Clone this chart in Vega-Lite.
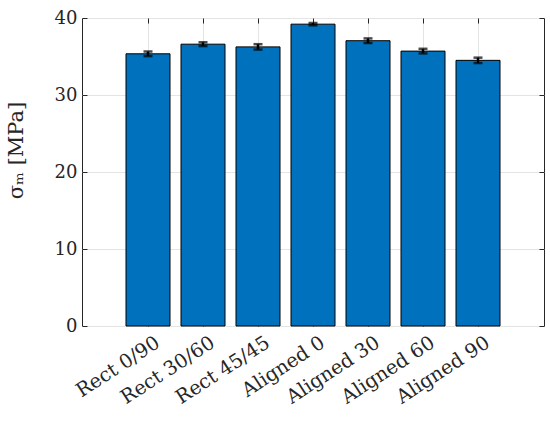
{
  "$schema": "https://vega.github.io/schema/vega-lite/v6.json",
  "autosize": {"type": "none"},
  "padding": {"left": 82, "top": 18, "right": 6, "bottom": 96},
  "width": 462,
  "height": 308,
  "background": "white",
  "config": {
    "view": {"stroke": "#262626", "strokeWidth": 1},
    "font": "DejaVu Serif",
    "axis": {
      "labelFont": "DejaVu Serif",
      "titleFont": "DejaVu Serif",
      "labelColor": "#262626",
      "titleColor": "#262626",
      "tickColor": "#262626",
      "domain": false,
      "gridColor": "#e4e4e4",
      "gridWidth": 1
    }
  },
  "data": {
    "values": [
      {"group": "Rect 0/90", "mean": 35.35, "err": 0.3},
      {"group": "Rect 30/60", "mean": 36.6, "err": 0.25},
      {"group": "Rect 45/45", "mean": 36.25, "err": 0.35},
      {"group": "Aligned 0", "mean": 39.2, "err": 0.15},
      {"group": "Aligned 30", "mean": 37.05, "err": 0.3},
      {"group": "Aligned 60", "mean": 35.7, "err": 0.3},
      {"group": "Aligned 90", "mean": 34.5, "err": 0.35}
    ]
  },
  "resolve": {"axis": {"x": "independent", "y": "independent"}},
  "layer": [
    {
      "mark": {"type": "bar", "fill": "#0072BD", "stroke": "#000000", "strokeWidth": 1},
      "encoding": {
        "x": {
          "field": "group", "type": "nominal", "sort": null,
          "scale": {"paddingInner": 0.2, "paddingOuter": 0.8},
          "axis": {
            "orient": "bottom", "title": null, "labelAngle": -33,
            "labelAlign": "right", "labelBaseline": "top",
            "labelFontSize": 19.5, "labelPadding": 12, "labelOffset": 5,
            "tickSize": -5, "grid": true
          }
        },
        "y": {
          "field": "mean", "type": "quantitative",
          "scale": {"domain": [0, 40], "nice": false},
          "axis": {
            "orient": "left", "values": [0, 10, 20, 30, 40],
            "title": "σₘ [MPa]", "titleFontSize": 21, "titleFontWeight": "normal",
            "titleX": -56, "titleY": 132,
            "labelFontSize": 18, "labelPadding": 10,
            "tickSize": -5, "grid": true
          }
        }
      }
    },
    {
      "mark": {"type": "errorbar", "ticks": {"size": 9, "thickness": 2.5, "color": "#000000"}, "rule": {"strokeWidth": 2.5, "color": "#000000"}},
      "encoding": {
        "x": {
          "field": "group", "type": "nominal", "sort": null,
          "axis": {"orient": "top", "title": null, "labels": false, "tickSize": -5, "grid": false}
        },
        "y": {
          "field": "mean", "type": "quantitative",
          "axis": {"orient": "right", "title": null, "labels": false, "values": [0, 10, 20, 30, 40], "tickSize": -5, "grid": false}
        },
        "yError": {"field": "err"}
      }
    }
  ]
}
